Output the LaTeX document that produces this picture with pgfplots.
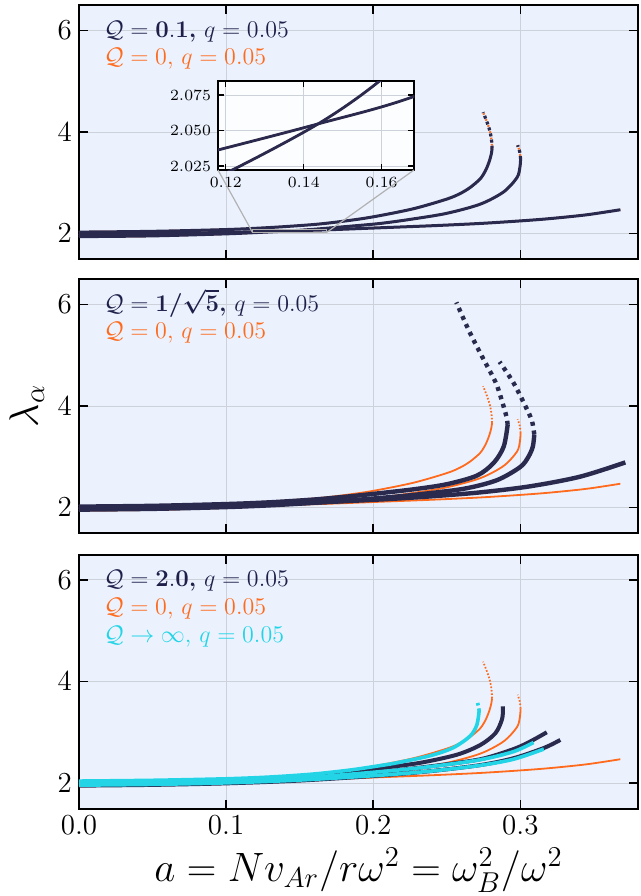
\documentclass[border=0pt]{standalone}
\usepackage{fix-cm}
\usepackage{amsmath}
\usepackage{pgfplots}
\usepackage{pgfplotstable}
\pgfplotsset{compat=1.18}

\definecolor{qnavy}{HTML}{2A2A4E}
\definecolor{qnavytext}{HTML}{1F1F4A}
\definecolor{qorange}{HTML}{FF6A1C}
\definecolor{qcyan}{HTML}{22D4E6}
\definecolor{bgblue}{HTML}{EBF2FE}
\definecolor{gridgray}{HTML}{CDD1DA}

% Q = 0 curves (also Q = 0.1, which lie on top of them)
\pgfplotstableread{
0 2.03
0.05 2.045
0.1 2.08
0.13 2.12
0.16 2.18
0.18 2.245
0.2 2.33
0.2274 2.49
0.2501 2.68
0.2592 2.79
0.266 2.91
0.2728 3.08
0.2765 3.25
0.279 3.43
0.2803 3.57
0.2808 3.67
}\oAs
\pgfplotstableread{
0.2808 3.67
0.2804 3.85
0.2793 4.02
0.2773 4.2
0.2747 4.39
}\oAd
\pgfplotstableread{
0 1.94
0.05 1.955
0.1 1.995
0.1215 2.022
0.1437 2.0547
0.1595 2.085
0.18 2.135
0.2048 2.20
0.2274 2.29
0.2501 2.40
0.2728 2.58
0.2886 2.82
0.2977 3.10
0.2997 3.30
0.3002 3.47
}\oBs
\pgfplotstableread{
0.3002 3.47
0.2996 3.61
0.2982 3.74
}\oBd
\pgfplotstableread{
0 1.98
0.05 1.997
0.1 2.024
0.1184 2.0366
0.1437 2.0547
0.1683 2.074
0.2048 2.115
0.24 2.155
0.2728 2.20
0.30 2.25
0.32 2.295
0.345 2.37
0.368 2.47
}\oC

% Q = 1/sqrt(5)
\pgfplotstableread{
0 2.02
0.05 2.035
0.1 2.07
0.13 2.105
0.16 2.16
0.185 2.225
0.2048 2.285
0.2274 2.36
0.25 2.46
0.2705 2.63
0.2819 2.88
0.2887 3.2
0.2914 3.63
}\mAs
\pgfplotstableread{
0.2914 3.63
0.2905 3.80
0.2870 4.15
0.283 4.48
0.2728 5.04
0.2648 5.50
0.2565 6.04
}\mAd
\pgfplotstableread{
0 1.96
0.05 1.975
0.1 2.01
0.13 2.045
0.16 2.095
0.185 2.145
0.2048 2.19
0.2274 2.25
0.2614 2.37
0.2841 2.54
0.30 2.80
0.3055 3.0
0.3085 3.2
0.3095 3.44
}\mBs
\pgfplotstableread{
0.3095 3.44
0.3080 3.70
0.3046 3.93
0.2955 4.45
0.2859 4.87
}\mBd
\pgfplotstableread{
0 1.97
0.05 1.99
0.1 2.03
0.15 2.085
0.2048 2.16
0.2388 2.22
0.2728 2.30
0.3068 2.42
0.3408 2.61
0.3714 2.89
}\mC

% Q = 2.0
\pgfplotstableread{
0 2.02
0.05 2.035
0.1 2.065
0.13 2.10
0.16 2.155
0.185 2.23
0.2048 2.295
0.232 2.40
0.257 2.56
0.2728 2.75
0.283 2.98
0.2875 3.25
0.2882 3.44
}\bAs
\pgfplotstableread{
0.2882 3.44
0.2880 3.52
0.2875 3.60
}\bAd
\pgfplotstableread{
0 1.98
0.05 1.995
0.1 2.03
0.15 2.09
0.2048 2.22
0.2388 2.33
0.2728 2.47
0.2954 2.67
0.3068 2.82
0.318 3.0
}\bB
\pgfplotstableread{
0 1.95
0.05 1.965
0.1 1.995
0.15 2.05
0.2048 2.15
0.2388 2.235
0.2728 2.355
0.2954 2.49
0.3159 2.69
0.3272 2.85
}\bC

% Q -> infinity
\pgfplotstableread{
0 2.04
0.05 2.055
0.1 2.085
0.13 2.12
0.16 2.18
0.185 2.26
0.2048 2.345
0.2161 2.40
0.2388 2.54
0.2546 2.70
0.266 2.93
0.2705 3.15
0.272 3.42
}\cAs
\pgfplotstableread{
0.272 3.42
0.2715 3.52
0.2705 3.62
}\cAd
\pgfplotstableread{
0 2.0
0.05 2.015
0.1 2.045
0.15 2.10
0.2048 2.225
0.2388 2.325
0.2728 2.46
0.2954 2.62
0.309 2.80
}\cB
\pgfplotstableread{
0 1.96
0.05 1.975
0.1 2.005
0.15 2.06
0.2048 2.155
0.2388 2.235
0.2728 2.35
0.2954 2.47
0.316 2.67
}\cC

\pgfplotsset{
  panel/.style={
    anchor=north west,
    scale only axis, width=279.5pt, height=127pt,
    xmin=0, xmax=0.38, ymin=1.5, ymax=6.5,
    xtick={0,0.1,0.2,0.3}, ytick={2,4,6},
    axis background/.style={fill=bgblue},
    grid=major, grid style={gridgray, line width=0.5pt},
    axis line style={line width=1pt},
    major tick length=4.5pt, tick style={black, line width=0.8pt},
    tick label style={font=\fontsize{14.5}{17}\selectfont},
    xticklabel style={/pgf/number format/.cd, fixed, fixed zerofill, precision=1},
    every axis plot/.append style={smooth, tension=0.5},
  },
}
\tikzset{leg/.style={anchor=base west, font=\fontsize{12}{14}\selectfont}}

\begin{document}
\begin{tikzpicture}

% ---------- top: Q = 0.1 ----------
\begin{axis}[panel, at={(0,0)}, xticklabels={}]
\addplot[qorange, line width=1pt] table {\oAs};
\addplot[qorange, line width=1.1pt, dash pattern=on 0.8pt off 0.8pt] table {\oAd};
\addplot[qorange, line width=1pt] table {\oBs};
\addplot[qorange, line width=1.1pt, dash pattern=on 0.8pt off 0.8pt] table {\oBd};
\addplot[qorange, line width=1pt] table {\oC};
\addplot[qnavy, line width=1.5pt] table {\oAs};
\addplot[qnavy, line width=1.6pt, dash pattern=on 1.5pt off 1.6pt] table {\oAd};
\addplot[qnavy, line width=1.5pt] table {\oBs};
\addplot[qnavy, line width=1.6pt, dash pattern=on 1.5pt off 1.6pt] table {\oBd};
\addplot[qnavy, line width=1.5pt] table {\oC};
\draw[gray!60, line width=0.6pt] (axis cs:0.118,2.0222) rectangle (axis cs:0.1683,2.0849);
\coordinate (zsw) at (axis cs:0.118,2.0222);
\coordinate (zse) at (axis cs:0.1683,2.0222);
\node[leg, text=qnavytext] at ([xshift=9pt]rel axis cs:0,0.873) {$\mathcal{Q}=\mathbf{0.1}$\textbf{,} $q=0.05$};
\node[leg, text=qorange] at ([xshift=9pt]rel axis cs:0,0.764) {$\mathcal{Q}=0$, $q=0.05$};
\end{axis}

% inset
\begin{axis}[name=ins, anchor=north west, at={(69.5pt,-38pt)},
  scale only axis, width=98pt, height=44.5pt,
  xmin=0.118, xmax=0.1683, ymin=2.0222, ymax=2.0849,
  xtick={0.12,0.14,0.16}, ytick={2.025,2.05,2.075},
  axis background/.style={fill=white!85!bgblue},
  grid=major, grid style={gridgray, line width=0.5pt},
  axis line style={line width=0.9pt},
  major tick length=3pt, tick style={black, line width=0.7pt},
  tick label style={font=\fontsize{7.8}{9}\selectfont},
  xticklabel style={/pgf/number format/.cd, fixed, fixed zerofill, precision=2},
  yticklabel style={/pgf/number format/.cd, fixed, fixed zerofill, precision=3},
  scaled ticks=false,
  every axis plot/.append style={smooth, tension=0.5}]
\addplot[qorange, line width=1pt] table {\oAs};
\addplot[qorange, line width=1pt] table {\oBs};
\addplot[qorange, line width=1pt] table {\oC};
\addplot[qnavy, line width=1.4pt] table {\oAs};
\addplot[qnavy, line width=1.4pt] table {\oBs};
\addplot[qnavy, line width=1.4pt] table {\oC};
\end{axis}
\draw[gray!60, line width=0.6pt] (ins.south west) -- (zsw);
\draw[gray!60, line width=0.6pt] (ins.south east) -- (zse);

% ---------- middle: Q = 1/sqrt5 ----------
\begin{axis}[panel, at={(0,-137pt)}, xticklabels={},
  ylabel={$\lambda_\alpha$}, ylabel style={font=\fontsize{20.5}{24}\selectfont}]
\addplot[qorange, line width=0.9pt] table {\oAs};
\addplot[qorange, line width=0.9pt, dash pattern=on 0.8pt off 0.9pt] table {\oAd};
\addplot[qorange, line width=0.9pt] table {\oBs};
\addplot[qorange, line width=0.9pt, dash pattern=on 0.8pt off 0.9pt] table {\oBd};
\addplot[qorange, line width=0.9pt] table {\oC};
\addplot[qnavy, line width=2.2pt] table {\mAs};
\addplot[qnavy, line width=2.2pt, dash pattern=on 2pt off 2.4pt] table {\mAd};
\addplot[qnavy, line width=2.2pt] table {\mBs};
\addplot[qnavy, line width=2.2pt, dash pattern=on 2pt off 2.4pt] table {\mBd};
\addplot[qnavy, line width=2.2pt] table {\mC};
\node[leg, text=qnavytext] at ([xshift=9pt]rel axis cs:0,0.873) {$\mathcal{Q}=\boldsymbol{1/\sqrt{5}}$\textbf{,} $q=0.05$};
\node[leg, text=qorange] at ([xshift=9pt]rel axis cs:0,0.764) {$\mathcal{Q}=0$, $q=0.05$};
\end{axis}

% ---------- bottom: Q = 2.0 ----------
\begin{axis}[panel, at={(0,-274.75pt)},
  xlabel={$a = Nv_{Ar}/r\omega^2 = \omega_B^2/\omega^2$},
  xlabel style={font=\fontsize{20.5}{24}\selectfont}]
\addplot[qorange, line width=0.9pt] table {\oAs};
\addplot[qorange, line width=0.9pt, dash pattern=on 0.8pt off 0.9pt] table {\oAd};
\addplot[qorange, line width=0.9pt] table {\oBs};
\addplot[qorange, line width=0.9pt, dash pattern=on 0.8pt off 0.9pt] table {\oBd};
\addplot[qorange, line width=0.9pt] table {\oC};
\addplot[qnavy, line width=2pt] table {\bAs};
\addplot[qnavy, line width=2pt, dash pattern=on 1.8pt off 2.6pt] table {\bAd};
\addplot[qnavy, line width=2pt] table {\bB};
\addplot[qnavy, line width=2pt] table {\bC};
\addplot[qcyan, line width=1.8pt] table {\cAs};
\addplot[qcyan, line width=1.8pt, dash pattern=on 1.3pt off 1.5pt] table {\cAd};
\addplot[qcyan, line width=1.8pt] table {\cB};
\addplot[qcyan, line width=1.8pt] table {\cC};
\node[leg, text=qnavytext] at ([xshift=9pt]rel axis cs:0,0.873) {$\mathcal{Q}=\mathbf{2.0}$\textbf{,} $q=0.05$};
\node[leg, text=qorange] at ([xshift=9pt]rel axis cs:0,0.764) {$\mathcal{Q}=0$, $q=0.05$};
\node[leg, text=qcyan] at ([xshift=9pt]rel axis cs:0,0.652) {$\mathcal{Q}\to\infty$, $q=0.05$};
\end{axis}

\pgfresetboundingbox
\path[use as bounding box] (-39.5pt,2.5pt) rectangle (281pt,-445.5pt);
\end{tikzpicture}
\end{document}
